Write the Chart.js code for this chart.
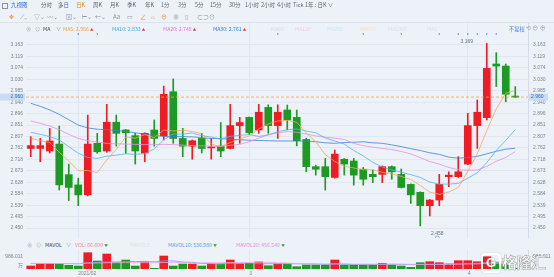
<!DOCTYPE html>
<html>
<head>
<meta charset="utf-8">
<script src="https://cdn.jsdelivr.net/npm/chart.js@4.4.1/dist/chart.umd.min.js"></script>
<style>
body{margin:0;width:554px;height:277px;background:#edf2f9;overflow:hidden;position:relative;font-family:"Noto Sans CJK SC","Noto Sans",sans-serif}
canvas{position:absolute;left:0}
.t{position:absolute;white-space:nowrap;line-height:1;color:#5d6570;font-size:5.5px}
.r1{top:2.5px}
.r2{top:13.5px;font-size:6px;color:#8c95a1}
.r3{top:25.5px;font-size:5.2px}
.rv{top:241.5px;font-size:5.2px}
.up{color:#e8303a;font-size:3.5px}
.dn{color:#1f9e2a;font-size:3.5px}
#sep{position:absolute;left:0;top:22px;width:554px;height:1px;background:#dde4ee}
#wm{position:absolute;left:480px;top:251px;width:70px;height:24px}
#wm .g{position:absolute;left:1px;top:2px;width:16px;height:16px;border:2px solid #fff;border-radius:4px;box-shadow:0 0 1px #8a8a8a;color:#fff;font:bold 13px "Liberation Sans",sans-serif;text-align:center;line-height:16px;text-shadow:0 0 1px #777}
#wm .w{position:absolute;left:22px;top:0;font-size:15px;font-weight:bold;color:#fff;-webkit-text-stroke:0.5px #9a9a9a;letter-spacing:-0.5px}
</style>
</head>
<body>
<div id="sep"></div>
<canvas id="pc" width="554" height="215" style="top:23px"></canvas>
<canvas id="vc" width="554" height="29" style="top:248px"></canvas>

<!-- toolbar row 1 -->
<div class="t r1" style="left:2px;width:4px;height:4px;border:0.8px solid #8c95a1;top:3px"></div>
<div class="t r1" style="left:11px;color:#2a6fd6">九视图</div>
<div class="t r1" style="left:41px">分时</div>
<div class="t r1" style="left:58px">多日</div>
<div class="t r1" style="left:76px;color:#f07f1a">日K</div>
<div class="t r1" style="left:93px">周K</div>
<div class="t r1" style="left:110px">月K</div>
<div class="t r1" style="left:127px">季K</div>
<div class="t r1" style="left:145px">年K</div>
<div class="t r1" style="left:161px">1分</div>
<div class="t r1" style="left:178px">3分</div>
<div class="t r1" style="left:195px">5分</div>
<div class="t r1" style="left:210px">15分</div>
<div class="t r1" style="left:229px">30分</div>
<div class="t r1" style="left:245px">1小时</div>
<div class="t r1" style="left:261px">2小时</div>
<div class="t r1" style="left:277px">4小时</div>
<div class="t r1" style="left:293px">Tick</div>
<div class="t r1" style="left:305px">1年 : 日K ∨</div>

<!-- toolbar row 2 (drawing tools) -->
<div class="t r2" style="left:9px;color:#f08a24">✥</div>
<div class="t r2" style="left:20px">⟋⌄</div>
<div class="t r2" style="left:34px">▽⌄</div>
<div class="t r2" style="left:47px">〰⌄</div>
<div class="t r2" style="left:66px">⊠⌄</div>
<div class="t r2" style="left:82px">⊢⌄</div>
<div class="t r2" style="left:95px">←⌄</div>
<div class="t r2" style="left:113px">Aa</div>
<div class="t r2" style="left:127px">▭</div>
<div class="t r2" style="left:140px;color:#f08a24">∠</div>
<div class="t r2" style="left:151px;color:#f08a24">⌂</div>
<div class="t r2" style="left:161px;color:#f08a24">⊖</div>
<div class="t r2" style="left:173px">⊗</div>
<div class="t r2" style="left:185px">▯</div>
<div class="t r2" style="left:197px">⊂⊃</div>
<div class="t r2" style="left:209px">⊙</div>

<!-- MA legend row -->
<div class="t r3" style="left:26px;color:#98a0aa">⊗</div>
<div class="t r3" style="left:35px;color:#98a0aa">⊙</div>
<div class="t r3" style="left:43px;color:#444">MA</div>
<div class="t r3" style="left:56px;color:#98a0aa">∨</div>
<div class="t r3" style="left:63px;color:#f0a050">MA5: 2.986 <span class="up">▲</span></div>
<div class="t r3" style="left:112px;color:#4aa8e0">MA10: 2.833 <span class="up">▲</span></div>
<div class="t r3" style="left:163px;color:#e07ad8">MA20: 2.748 <span class="up">▲</span></div>
<div class="t r3" style="left:213px;color:#3a7ad0">MA30: 2.761 <span class="up">▲</span></div>
<div class="t r3" style="left:271px;color:#d6dbe2">MA60</div>
<div class="t r3" style="left:295px;color:#f2cfd8">MA120</div>
<div class="t r3" style="left:327px;color:#cde5f5">MA250</div>
<div class="t r3" style="left:360px;color:#f3dfc8">MA500</div>
<div class="t r3" style="left:388px;color:#dde0e5">MA1000</div>
<div class="t r3" style="left:427px;color:#dde0e5">MA1</div>
<div class="t r3" style="left:509px;color:#3f7fd6">不复权</div>
<div class="t r3" style="left:526px;color:#98a0aa;font-size:6px;top:25px">⟲ ⊖ ⊕</div>

<!-- volume legend row -->
<div class="t rv" style="left:27px;color:#98a0aa">⊗</div>
<div class="t rv" style="left:36px;color:#98a0aa">⊙</div>
<div class="t rv" style="left:45px;color:#444">MAVOL</div>
<div class="t rv" style="left:66px;color:#98a0aa">∨</div>
<div class="t rv" style="left:75px;color:#f08a8a">VOL: 66.600 <span class="dn">▼</span></div>
<div class="t rv" style="left:130px;color:#eadede">MAVOL5</div>
<div class="t rv" style="left:168px;color:#5aa0e0">MAVOL10: 536.980 <span class="dn">▼</span></div>
<div class="t rv" style="left:236px;color:#e090d8">MAVOL20: 456.540 <span class="dn">▼</span></div>

<div id="wm"><div class="g">G</div><div class="w">格隆汇</div></div>

<script>
// daily candles, Jan 2021 - Apr 2021
const opens  = [2.760, 2.760, 2.750, 2.777, 2.658, 2.618, 2.579, 2.780, 2.750, 2.862,
                2.832, 2.810, 2.742, 2.832, 2.809, 2.981, 2.799, 2.769, 2.799, 2.762,
                2.769, 2.760, 2.849, 2.881, 2.832, 2.920, 2.849, 2.910, 2.881, 2.795,
                2.689, 2.689, 2.647, 2.718, 2.711, 2.679, 2.659, 2.659, 2.689, 2.659,
                2.620, 2.589, 2.537, 2.559, 2.650, 2.650, 2.699, 2.849, 2.880, 3.089,
                3.081, 2.962];
const highs  = [2.806, 2.799, 2.838, 2.847, 2.699, 2.644, 2.890, 2.819, 2.932, 2.890,
                2.834, 2.819, 2.821, 2.871, 3.003, 3.031, 2.838, 2.793, 2.819, 2.799,
                2.861, 2.932, 2.881, 2.883, 2.932, 2.930, 2.930, 2.929, 2.910, 2.800,
                2.695, 2.721, 2.754, 2.721, 2.721, 2.686, 2.676, 2.692, 2.692, 2.680,
                2.622, 2.591, 2.561, 2.659, 2.669, 2.728, 2.897, 2.949, 3.169, 3.133,
                3.089, 3.001];
const lows   = [2.728, 2.708, 2.742, 2.598, 2.557, 2.537, 2.575, 2.741, 2.745, 2.769,
                2.741, 2.699, 2.708, 2.769, 2.793, 2.780, 2.728, 2.718, 2.742, 2.718,
                2.728, 2.758, 2.780, 2.815, 2.819, 2.819, 2.799, 2.832, 2.770, 2.669,
                2.656, 2.598, 2.644, 2.656, 2.617, 2.617, 2.627, 2.627, 2.640, 2.606,
                2.546, 2.458, 2.497, 2.537, 2.611, 2.647, 2.697, 2.760, 2.871, 3.001,
                2.942, 2.959];
const closes = [2.771, 2.771, 2.789, 2.618, 2.608, 2.579, 2.777, 2.747, 2.862, 2.819,
                2.821, 2.750, 2.819, 2.799, 2.971, 2.799, 2.769, 2.790, 2.760, 2.765,
                2.750, 2.849, 2.861, 2.821, 2.901, 2.849, 2.901, 2.871, 2.790, 2.689,
                2.679, 2.650, 2.738, 2.699, 2.656, 2.640, 2.650, 2.689, 2.669, 2.608,
                2.579, 2.537, 2.559, 2.620, 2.656, 2.669, 2.849, 2.901, 3.072, 3.081,
                2.971, 2.960];

const ma5  = [2.800, 2.790, 2.783, 2.745, 2.711, 2.673, 2.674, 2.666, 2.715, 2.757,
              2.805, 2.800, 2.814, 2.802, 2.832, 2.828, 2.831, 2.826, 2.818, 2.777,
              2.767, 2.783, 2.797, 2.809, 2.836, 2.856, 2.867, 2.869, 2.862, 2.820,
              2.786, 2.736, 2.709, 2.691, 2.684, 2.677, 2.677, 2.667, 2.661, 2.651,
              2.639, 2.616, 2.590, 2.581, 2.590, 2.608, 2.671, 2.739, 2.829, 2.914,
              2.975, 2.986];
const ma10 = [2.823, 2.815, 2.806, 2.793, 2.767, 2.741, 2.725, 2.721, 2.730, 2.734,
              2.739, 2.737, 2.740, 2.758, 2.794, 2.816, 2.816, 2.820, 2.810, 2.804,
              2.797, 2.807, 2.811, 2.814, 2.807, 2.812, 2.825, 2.833, 2.836, 2.828,
              2.821, 2.801, 2.789, 2.777, 2.752, 2.731, 2.706, 2.688, 2.676, 2.668,
              2.658, 2.647, 2.629, 2.621, 2.621, 2.624, 2.644, 2.665, 2.705, 2.752,
              2.792, 2.833];
const ma20 = [2.867, 2.858, 2.847, 2.833, 2.815, 2.799, 2.790, 2.785, 2.780, 2.778,
              2.777, 2.776, 2.775, 2.775, 2.776, 2.775, 2.773, 2.771, 2.770, 2.769,
              2.768, 2.772, 2.776, 2.786, 2.800, 2.814, 2.820, 2.826, 2.823, 2.816,
              2.809, 2.804, 2.800, 2.795, 2.779, 2.771, 2.765, 2.760, 2.756, 2.748,
              2.739, 2.724, 2.709, 2.699, 2.686, 2.677, 2.675, 2.676, 2.690, 2.710,
              2.725, 2.748];
const ma30 = [2.936, 2.924, 2.910, 2.893, 2.872, 2.851, 2.840, 2.835, 2.833, 2.830,
              2.826, 2.821, 2.816, 2.811, 2.807, 2.806, 2.806, 2.805, 2.802, 2.799,
              2.798, 2.796, 2.794, 2.792, 2.791, 2.790, 2.789, 2.789, 2.789, 2.789,
              2.786, 2.782, 2.780, 2.783, 2.784, 2.786, 2.782, 2.780, 2.774, 2.767,
              2.759, 2.752, 2.743, 2.737, 2.726, 2.722, 2.725, 2.729, 2.739, 2.749,
              2.757, 2.761];

// volume in 万
const vols    = [240, 400, 400, 400, 296, 240, 1304, 640, 1200, 504,
                 720, 240, 560, 56, 1040, 240, 400, 400, 240, 400,
                 400, 720, 400, 456, 560, 264, 400, 400, 184, 320,
                 320, 320, 720, 320, 320, 320, 320, 456, 320, 240,
                 136, 504, 584, 504, 400, 664, 664, 584, 984, 504,
                 400, 66.6];
const mavol10 = [430, 440, 440, 430, 430, 420, 500, 520, 560, 562,
                 610, 594, 610, 576, 650, 650, 560, 536, 440, 430,
                 398, 446, 430, 470, 422, 424, 424, 424, 418, 410,
                 402, 362, 394, 381, 357, 362, 354, 360, 374, 366,
                 347, 366, 352, 370, 378, 413, 447, 460, 526, 553,
                 579, 536.98];
const mavol20 = [450, 450, 450, 445, 440, 435, 470, 480, 500, 500,
                 510, 505, 510, 500, 520, 515, 505, 500, 495, 496,
                 504, 520, 520, 523, 536, 537, 492, 480, 429, 420,
                 400, 404, 412, 425, 389, 393, 389, 392, 396, 388,
                 375, 364, 373, 376, 368, 388, 401, 409, 449, 458,
                 462, 456.54];

const priceTicks = [3.163, 3.119, 3.074, 3.030, 2.985, 2.940, 2.896, 2.851, 2.807,
                    2.762, 2.718, 2.673, 2.628, 2.584, 2.539, 2.495, 2.450];
const volTicks = [986.011];
const monthIdx = [5, 23, 46];
const monthLabels = ["2021/02", "3", "4"];
const eventIdx = [5, 7, 26, 35, 39, 43, 45, 46, 47, 48, 49];
const lastPrice = 2.960;
const hiIdx = 48, loIdx = 41;

const RED = "#ef1c24", GREEN = "#1d9a22";
const upDown = closes.map((c, i) => c >= opens[i] ? RED : GREEN);
const xy = arr => arr.map((v, i) => ({x: i, y: v}));

Chart.defaults.font.family = "'Liberation Sans', Arial, sans-serif";
Chart.defaults.font.size = 5;
Chart.defaults.color = "#7d8590";

const gridCol = "#dfe7f2";
const noPad = s => { s.paddingTop = 0; s.paddingBottom = 0; s.paddingLeft = 0; s.paddingRight = 0; };

function xScale(showLabels) {
  return {
    type: "linear", min: -0.5, max: 52.34, offset: false,
    afterBuildTicks: s => { s.ticks = monthIdx.map(v => ({value: v})); },
    afterFit: s => { s.height = showLabels ? 8 : 0; noPad(s); },
    grid: {color: gridCol, offset: false, drawTicks: false},
    border: {display: !showLabels, color: "#d3dce8"},
    ticks: {display: showLabels, autoSkip: false, maxRotation: 0, align: "start", padding: 2,
            callback: v => monthLabels[monthIdx.indexOf(v)]}
  };
}

function yScale(pos, min, max, ticks, fmt, grid) {
  return {
    position: pos, min, max,
    afterBuildTicks: s => { s.ticks = ticks.map(v => ({value: v})); },
    afterFit: s => { s.width = 26; noPad(s); },
    grid: {display: grid, color: gridCol, drawTicks: false},
    border: {display: pos === "right", color: "#d3dce8"},
    ticks: {padding: pos === "right" ? 5 : 3, callback: fmt}
  };
}

const priceMarks = {
  id: "priceMarks",
  afterDraw(chart) {
    const {ctx, chartArea: a, scales: {x, y}} = chart;
    const py = y.getPixelForValue(lastPrice);
    ctx.save();
    ctx.strokeStyle = "#f2a34e";
    ctx.lineWidth = 0.8;
    ctx.setLineDash([3, 2]);
    ctx.beginPath(); ctx.moveTo(a.left, py); ctx.lineTo(a.right, py); ctx.stroke();
    ctx.setLineDash([]);
    ctx.fillStyle = "#c8dcf4";
    ctx.fillRect(0, py - 3.5, 25, 7);
    ctx.fillRect(529, py - 3.5, 19, 7);
    ctx.fillStyle = "#2c6cc4";
    ctx.font = "5px 'Liberation Sans', Arial";
    ctx.textBaseline = "middle";
    ctx.textAlign = "right"; ctx.fillText(lastPrice.toFixed(3), 23, py);
    ctx.textAlign = "left"; ctx.fillText(lastPrice.toFixed(3), 531, py);

    ctx.fillStyle = "#6b7380";
    ctx.textAlign = "center";
    ctx.fillText(highs[hiIdx].toFixed(3), x.getPixelForValue(hiIdx) - 20, y.getPixelForValue(highs[hiIdx]) - 2);
    ctx.fillText(lows[loIdx].toFixed(3), x.getPixelForValue(loIdx) + 17, y.getPixelForValue(lows[loIdx]) + 8);
    ctx.strokeStyle = "#5b9be0"; ctx.lineWidth = 0.7;
    ctx.beginPath(); ctx.arc(x.getPixelForValue(loIdx) + 17, y.getPixelForValue(lows[loIdx]) + 12, 2, 0, Math.PI * 2); ctx.stroke();

    ctx.fillStyle = "#4a86d8";
    eventIdx.forEach(i => {
      ctx.beginPath(); ctx.arc(x.getPixelForValue(i), a.top + 11, 0.8, 0, Math.PI * 2); ctx.fill();
    });
    ctx.restore();
  }
};

const maLine = (data, color) => ({
  type: "line", data: xy(data), borderColor: color, borderWidth: 0.8,
  pointRadius: 0, tension: 0, order: 0, yAxisID: "y"
});

new Chart(document.getElementById("pc"), {
  type: "bar",
  data: {
    datasets: [
      maLine(ma5, "#f5a65e"),
      maLine(ma10, "#55b4ea"),
      maLine(ma20, "#e88ede"),
      maLine(ma30, "#3f82d8"),
      {data: closes.map((c, i) => ({x: i, y: [opens[i], c]})), backgroundColor: upDown,
       barThickness: 7, minBarLength: 1, grouped: false, order: 1, yAxisID: "y"},
      {data: closes.map((c, i) => ({x: i, y: [lows[i], highs[i]]})), backgroundColor: upDown,
       barThickness: 1, grouped: false, order: 2, yAxisID: "y"}
    ]
  },
  options: {
    responsive: false, animation: false,
    layout: {padding: 0, autoPadding: false},
    plugins: {legend: {display: false}, tooltip: {enabled: false}},
    scales: {
      x: xScale(false),
      y: yScale("left", 2.4111, 3.2487, priceTicks, v => v.toFixed(3), true),
      yR: yScale("right", 2.4111, 3.2487, priceTicks, v => v.toFixed(3), false)
    }
  },
  plugins: [priceMarks]
});

const volUnit = {
  id: "volUnit",
  afterDraw(chart) {
    const {ctx, scales: {y}} = chart;
    ctx.save();
    ctx.fillStyle = "#7d8590";
    ctx.font = "5px 'Noto Sans CJK SC'";
    ctx.textAlign = "right";
    ctx.textBaseline = "middle";
    ctx.fillText("万", 23, y.getPixelForValue(320));
    ctx.restore();
  }
};

const volLine = (data, color) => ({
  type: "line", data: xy(data), borderColor: color, borderWidth: 0.8,
  pointRadius: 0, tension: 0, order: 0, yAxisID: "y"
});

new Chart(document.getElementById("vc"), {
  type: "bar",
  data: {
    datasets: [
      volLine(mavol20, "#e7a6e2"),
      volLine(mavol10, "#6f9fe6"),
      {data: xy(vols), backgroundColor: upDown, barThickness: 8, grouped: false, order: 1, yAxisID: "y"}
    ]
  },
  options: {
    responsive: false, animation: false,
    layout: {padding: {top: 2}, autoPadding: false},
    plugins: {legend: {display: false}, tooltip: {enabled: false}},
    scales: {
      x: xScale(true),
      y: yScale("left", 0, 1520, volTicks, v => v.toFixed(3), false),
      yR: yScale("right", 0, 1520, volTicks, v => v.toFixed(3), false)
    }
  },
  plugins: [volUnit]
});
</script>
</body>
</html>
